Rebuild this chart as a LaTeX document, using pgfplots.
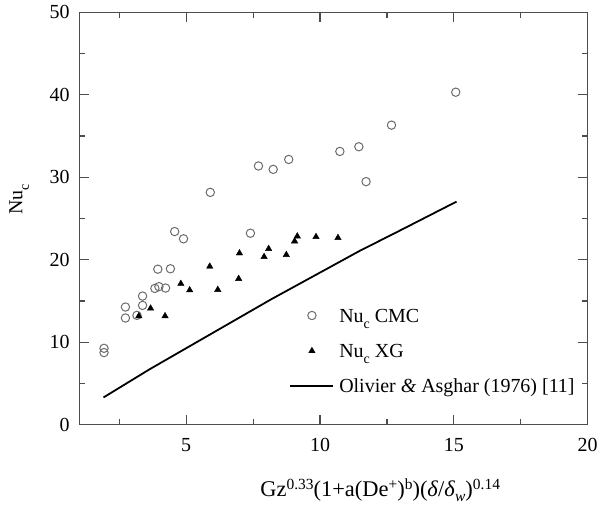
\documentclass[border=0pt]{standalone}
\usepackage{pgfplots}
\pgfplotsset{compat=1.18}
\usepackage{fontspec}
\setmainfont{Liberation Serif}
\newcommand{\f}{\fontsize{20bp}{24bp}\selectfont}
\newcommand{\fx}{\fontsize{22.5bp}{26bp}\selectfont}
\newcommand{\lsub}[1]{\raisebox{-6.5bp}{\fontsize{14bp}{14bp}\selectfont #1}}
\newcommand{\xsup}[1]{\raisebox{7.5bp}{\fontsize{15.5bp}{15.5bp}\selectfont #1}}
\newcommand{\xsub}[1]{\raisebox{-4.5bp}{\fontsize{15.5bp}{15.5bp}\selectfont #1}}
\begin{document}
\begin{tikzpicture}
\begin{axis}[
  scale only axis,
  width=509.7bp, height=413.4bp,
  xmin=1, xmax=20, ymin=0, ymax=50,
  xtick={5,10,15,20}, ytick={0,10,20,30,40,50},
  minor xtick={2.5,7.5,12.5,17.5}, minor ytick={5,15,25,35,45},
  tick align=inside,
  major tick length=10bp, minor tick length=6bp,
  axis line style={black!70, line width=1.1bp},
  every tick/.style={black!70, line width=1.1bp},
  /pgf/number format/assume math mode=true,
  tick label style={font=\f},
  yticklabel style={xshift=-6bp},
  xticklabel style={yshift=-10bp},
  label style={font=\f},
  xlabel={\fx Gz\xsup{0.33}(1+a(De\xsup{+})\xsup{b})(\textit{δ}/\textit{δ}\xsub{\textit{w}})\xsup{0.14}},
  xlabel style={at={(axis description cs:0.592,-0.158)}, anchor=center},
  ylabel={Nu\lsub{c}},
  ylabel style={at={(axis description cs:-0.118,0.547)}, anchor=center},
  legend style={font=\f, draw=none, fill=none, inner sep=0pt,
    at={(axis description cs:0.4134,0.2978)}, anchor=north west,
    row sep=8.7bp, column sep=5bp,
    nodes={inner sep=0pt, text height=20bp, text depth=6.8bp}},
  legend cell align=left,
  myleg/.style={legend image code/.code={\path (0bp,0bp) (43bp,0bp);
      \draw[mark repeat=2,mark phase=2,##1] plot coordinates {(0bp,0bp) (21.5bp,0bp) (43bp,0bp)};}},
]
\addplot[only marks, mark=o, draw=black!58, mark size=4.2bp, mark options={line width=1bp}, myleg] coordinates {
(1.93,9.27) (1.93,8.75) (2.73,14.27) (2.73,12.94) (3.16,13.26)
(3.37,15.6) (3.37,14.47) (3.83,16.53) (3.98,16.74) (4.23,16.57)
(3.94,18.86) (4.41,18.91) (4.57,23.42) (4.90,22.54) (7.40,23.22)
(5.90,28.17) (7.70,31.37) (8.25,30.96) (8.83,32.16) (10.74,33.13)
(11.45,33.70) (11.72,29.47) (12.67,36.32) (15.07,40.31)
};
\addlegendentry{Nu\lsub{c} CMC}
\addplot[only marks, mark=triangle*, draw=black, fill=black, mark size=3.7bp, mark options={line width=0.4bp}, myleg] coordinates {
(3.23,13.18) (3.67,14.11) (4.21,13.18) (4.80,17.10) (5.13,16.32)
(5.88,19.19) (6.18,16.37) (6.99,20.80) (6.96,17.70) (7.91,20.36)
(8.08,21.33) (8.74,20.60) (9.05,22.25) (9.15,22.85) (9.85,22.78)
(10.67,22.66)
};
\addlegendentry{Nu\lsub{c} XG}
\addplot[black, line width=1.8bp, mark=none, myleg] coordinates {
(1.91,3.31) (3.64,6.74) (8.17,15.2) (11.46,21.04) (13.08,23.7) (15.10,27.05)
};
\addlegendentry{Olivier \textit{\&} Asghar (1976) [11]}
\coordinate (bl) at (rel axis cs:0,0);
\end{axis}
\path (bl) ++(-79.3bp,-76.3bp) rectangle ++(601bp,502bp);
\end{tikzpicture}
\end{document}
